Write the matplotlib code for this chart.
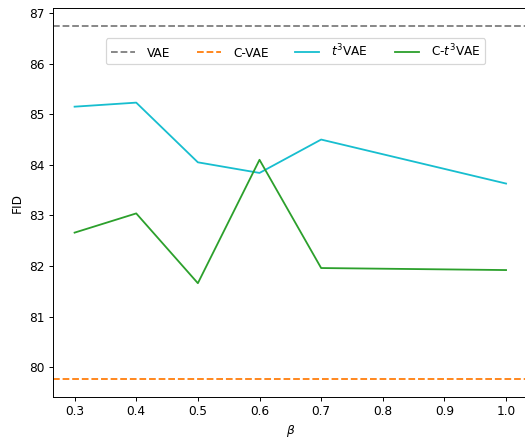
import matplotlib

matplotlib.use("Agg", force=True)

import matplotlib.pyplot as plt  # noqa: E402

# beta values and FID scores
betas = [0.3, 0.4, 0.5, 0.6, 0.7, 1.0]
fid_vae = 86.75
fid_cvae = 79.76
fid_t3vae = [85.15, 85.23, 84.05, 83.84, 84.50, 83.63]
fid_ct3vae = [82.66, 83.04, 81.66, 84.10, 81.96, 81.92]

# The reference is rendered at a lower dpi, so fonts and lines look smaller.
DPI = 87
fig = plt.figure(figsize=(525 / DPI, 438 / DPI), dpi=DPI)
ax = fig.add_axes([0.101, 0.0936, 0.904, 0.888])

ax.axhline(fid_vae, color="tab:gray", linestyle="--", label="VAE")
ax.axhline(fid_cvae, color="tab:orange", linestyle="--", label="C-VAE")
ax.plot(betas, fid_t3vae, color="tab:cyan", label=r"$t^3$VAE")
ax.plot(betas, fid_ct3vae, color="tab:green", label=r"C-$t^3$VAE")

ax.set_xlabel(r"$\beta$")
ax.set_ylabel("FID")

ax.legend(
    ncol=4,
    loc="upper center",
    bbox_to_anchor=(0.563, 0.913),
    bbox_transform=fig.transFigure,
    borderaxespad=0,
    handletextpad=1.0,
    columnspacing=2.2,
)

fig.savefig("out.png", dpi=DPI)
plt.close(fig)
